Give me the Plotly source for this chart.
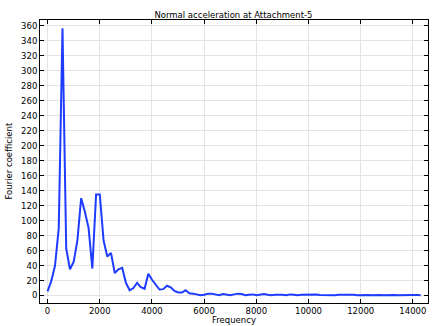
import plotly.graph_objects as go

step = 143.0
coef = [5.5, 19.5, 40, 90, 357, 63, 35, 45, 74, 130,
        112, 90, 36, 135, 135, 74, 52, 57, 30, 35,
        37, 17, 7, 10, 17, 11, 9, 29, 21, 14,
        8, 8.5, 13, 11, 6, 4, 4, 7, 3, 2.5,
        2, 0.5, 1, 2.5, 2.5, 1, 0.5, 2, 1.5, 0.5,
        1.5, 2.5, 2, 0.5, 1, 1.5, 0.5, 1, 2, 1,
        0.5, 1, 1.5, 1, 0.5, 1.5, 1, 0.5, 1, 1.2,
        0.5, 1, 1.5, 0.8, 0.5, 1, 0.8, 0.5, 1, 1.2,
        0.6, 0.8, 1, 0.5, 0.8, 1, 0.6, 0.5, 1, 0.8,
        0.5, 0.8, 1, 0.6, 0.5, 0.8, 1, 0.6, 0.8, 0.6, 0.3]
freq = [i * step for i in range(len(coef))]
xticks = list(range(0, 14001, 2000))
xticklabels = [str(v) for v in xticks]
yticks = list(range(0, 361, 20))

font = dict(family="DejaVu Sans", size=8.5, color="black")

fig = go.Figure()
fig.add_trace(go.Scatter(x=freq, y=coef, mode="lines",
                         line=dict(color="rgb(30,60,255)", width=2)))

axis_common = dict(showline=True, linecolor="black", linewidth=1, mirror="ticks",
                   ticks="inside", ticklen=4, tickcolor="black",
                   showgrid=True, gridcolor="rgb(228,228,228)", gridwidth=1,
                   zeroline=False, automargin=False, tickfont=font)

fig.update_layout(
    width=438, height=326,
    margin=dict(l=40, r=10, t=20, b=23),
    paper_bgcolor="white", plot_bgcolor="white",
    showlegend=False,
    title=dict(text="Normal acceleration at Attachment-5", x=0.533, xanchor="center",
               y=0.955, yanchor="middle", font=font),
    xaxis=dict(range=[-290, 14580], tickvals=xticks, ticktext=xticklabels, **axis_common),
    yaxis=dict(range=[-10, 368], tickvals=yticks, **axis_common),
    annotations=[
        dict(text="Frequency", xref="paper", yref="paper", x=0.5, y=0,
             xanchor="center", yanchor="top", yshift=-10, showarrow=False, font=font),
        dict(text="Fourier coefficient", xref="paper", yref="paper", x=0, y=0.5,
             xanchor="right", yanchor="middle", xshift=-25, textangle=-90,
             showarrow=False, font=font),
    ],
)

fig.write_html("out.html")
